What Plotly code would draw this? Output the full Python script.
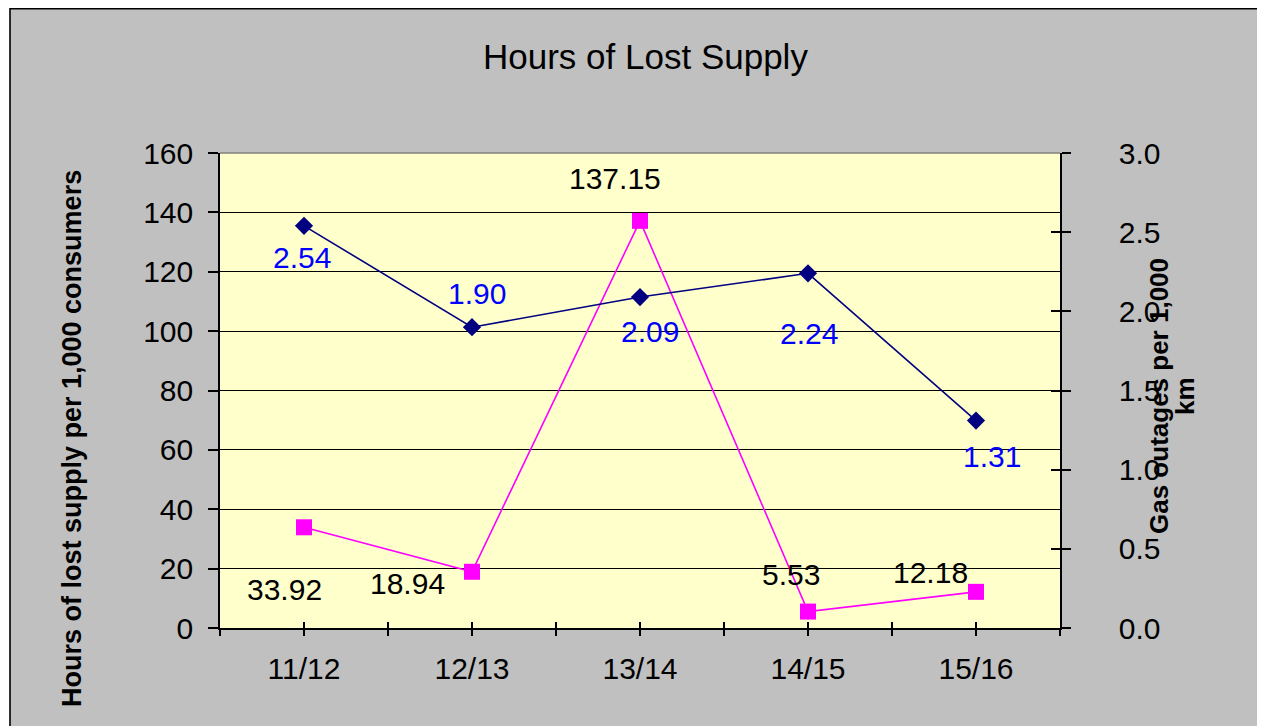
import plotly.graph_objects as go

categories = ["11/12", "12/13", "13/14", "14/15", "15/16"]
hours_lost = [33.92, 18.94, 137.15, 5.53, 12.18]
gas_outages = [2.54, 1.90, 2.09, 2.24, 1.31]
hours_labels = ["33.92", "18.94", "137.15", "5.53", "12.18"]
gas_labels = ["2.54", "1.90", "2.09", "2.24", "1.31"]
left_ticks = [0, 20, 40, 60, 80, 100, 120, 140, 160]
right_ticks = [0.0, 0.5, 1.0, 1.5, 2.0, 2.5, 3.0]
right_title_lines = ["Gas outages per 1,000", "km"]

# label offsets (pixels) relative to each point - style only
hours_off = [(-20, -62), (-65, -12), (-25, 42), (-17, 37), (-46, 19)]
gas_off = [(-2, -32), (5, 34), (10, -34), (1, -60), (16, -36)]

# page body has an 8px margin; figure coordinates = page coordinates - 8
OFF = 8
W, H = 1265 - OFF, 726 - OFF
PL, PR, PT, PB = 220, 1060, 153, 628          # plot area in page pixels
L, R, T, B = PL - OFF, W - (PR - OFF), PT - OFF, H - (PB - OFF)
PW, PH = PR - PL, PB - PT

def px(xp):
    return (xp - PL) / PW

def py(yp):
    return (PB - yp) / PH

FONT = "Liberation Sans, Arial, sans-serif"
xs = list(range(len(categories)))

fig = go.Figure()
fig.add_trace(go.Scatter(
    x=xs, y=gas_outages, yaxis="y2", mode="lines+markers",
    line=dict(color="#000080", width=1.6),
    marker=dict(symbol="diamond", size=14, color="#000080"),
    name="Gas outages", showlegend=False, cliponaxis=False))
fig.add_trace(go.Scatter(
    x=xs, y=hours_lost, mode="lines+markers",
    line=dict(color="#FF00FF", width=1.6),
    marker=dict(symbol="square", size=16, color="#FF00FF"),
    name="Hours lost", showlegend=False, cliponaxis=False))

annotations = []
for i, (v, t) in enumerate(zip(hours_lost, hours_labels)):
    annotations.append(dict(x=xs[i], y=v, xref="x", yref="y", text=t, showarrow=False,
                            xanchor="center", yanchor="middle",
                            xshift=hours_off[i][0], yshift=hours_off[i][1],
                            font=dict(family=FONT, size=30, color="#000000")))
for i, (v, t) in enumerate(zip(gas_outages, gas_labels)):
    annotations.append(dict(x=xs[i], y=v, xref="x", yref="y2", text=t, showarrow=False,
                            xanchor="center", yanchor="middle",
                            xshift=gas_off[i][0], yshift=gas_off[i][1],
                            font=dict(family=FONT, size=30, color="#0000FF")))

annotations.append(dict(text="Hours of Lost Supply", xref="paper", yref="paper",
                        x=px(645), y=py(57), showarrow=False, xanchor="center", yanchor="middle",
                        font=dict(family=FONT, size=35, color="#000000")))
annotations.append(dict(text="<b>Hours of lost supply per 1,000 consumers</b>", xref="paper", yref="paper",
                        x=px(72), y=py(439), showarrow=False, textangle=-90,
                        xanchor="center", yanchor="middle",
                        font=dict(family=FONT, size=27, color="#000000")))
for line_text, xc in zip(right_title_lines, [1159, 1185]):
    annotations.append(dict(text=f"<b>{line_text}</b>", xref="paper", yref="paper",
                            x=px(xc), y=py(396), showarrow=False, textangle=-90,
                            xanchor="center", yanchor="middle",
                            font=dict(family=FONT, size=26, color="#000000")))

shapes = [
    # white strips outside the chart frame
    dict(type="rect", xref="paper", yref="paper", x0=px(0), x1=px(10), y0=py(760), y1=py(0),
         fillcolor="white", line=dict(width=0), layer="above"),
    dict(type="rect", xref="paper", yref="paper", x0=px(1263), x1=px(1280), y0=py(760), y1=py(0),
         fillcolor="white", line=dict(width=0), layer="above"),
    # chart frame
    dict(type="rect", xref="paper", yref="paper", x0=px(10), x1=px(1263), y0=py(760), y1=py(8.8),
         fillcolor="rgba(0,0,0,0)", line=dict(color="black", width=1.6), layer="above"),
    # gray top border of plot area
    dict(type="line", xref="paper", yref="paper", x0=0, x1=1, y0=1, y1=1,
         line=dict(color="#808080", width=1.5), layer="above"),
]

fig.update_layout(
    width=W, height=H, autosize=False,
    margin=dict(l=L, r=R, t=T, b=B, pad=0),
    paper_bgcolor="#C0C0C0", plot_bgcolor="#FFFFCC",
    font=dict(family=FONT, size=30, color="#000000"),
    showlegend=False,
    xaxis=dict(range=[-0.5, 4.5], tickmode="array", tickvals=xs, ticktext=categories,
               showgrid=False, zeroline=False, showline=True, linecolor="black", linewidth=1.6,
               ticks="outside", ticklen=6, tickwidth=1.5, tickcolor="black",
               ticklabelstandoff=7,
               minor=dict(ticks="outside", tick0=-0.5, dtick=1, ticklen=6, tickwidth=1.5,
                          tickcolor="black", showgrid=False),
               tickfont=dict(family=FONT, size=30)),
    xaxis2=dict(range=[-0.5, 4.5], overlaying="x", tickmode="linear", tick0=-0.5, dtick=0.5,
                ticks="inside", ticklen=6, tickwidth=1.5, tickcolor="black",
                showticklabels=False, showgrid=False, zeroline=False, showline=False),
    yaxis=dict(range=[0, 160], tickmode="array", tickvals=left_ticks,
               showgrid=True, gridcolor="black", gridwidth=1.3, zeroline=False,
               showline=True, linecolor="black", linewidth=1.6,
               ticks="outside", ticklen=10, tickwidth=1.5, tickcolor="black",
               ticklabelstandoff=9, tickfont=dict(family=FONT, size=30)),
    yaxis2=dict(range=[0, 3.0], overlaying="y", side="right", tickmode="array",
                tickvals=right_ticks, ticktext=[f"{v:.1f}" for v in right_ticks],
                showgrid=False, zeroline=False, showline=True, linecolor="black", linewidth=1.6,
                ticks="outside", ticklen=9, tickwidth=1.5, tickcolor="black",
                ticklabelstandoff=42, tickfont=dict(family=FONT, size=30)),
    yaxis3=dict(range=[0, 3.0], overlaying="y", side="right", tickmode="array",
                tickvals=right_ticks, showticklabels=False,
                showgrid=False, zeroline=False, showline=False,
                ticks="inside", ticklen=9, tickwidth=1.5, tickcolor="black"),
    annotations=annotations,
    shapes=shapes,
)

# invisible trace to activate overlay axes
fig.add_trace(go.Scatter(x=[None], y=[None], xaxis="x2", yaxis="y3", showlegend=False,
                         hoverinfo="skip"))

fig.write_html("out.html")
